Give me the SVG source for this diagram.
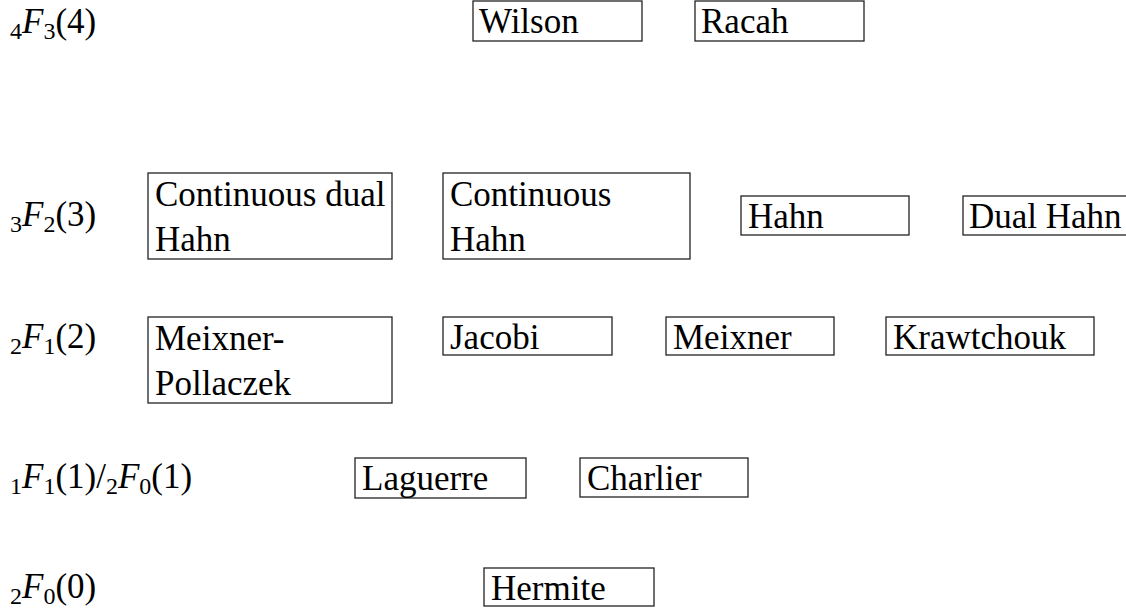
<svg xmlns="http://www.w3.org/2000/svg" width="1126" height="608" viewBox="0 0 1126 608" font-family="'Liberation Serif', 'DejaVu Serif', serif">
<style>
text{font-family:'Liberation Serif','DejaVu Serif',serif;font-size:35px;fill:#000}
.box{fill:#fff;stroke:#222;stroke-width:1.3}
.it{font-style:italic}
.sub{font-size:24px}
</style>
<rect width="1126" height="608" fill="#fff"/>
<g id="levels">
<text x="10" y="33"><tspan class="sub" dy="6">4</tspan><tspan class="it" dy="-6">F</tspan><tspan class="sub" dy="6">3</tspan><tspan dy="-6">(4)</tspan></text>
<text x="10" y="226"><tspan class="sub" dy="6">3</tspan><tspan class="it" dy="-6">F</tspan><tspan class="sub" dy="6">2</tspan><tspan dy="-6">(3)</tspan></text>
<text x="10" y="348"><tspan class="sub" dy="6">2</tspan><tspan class="it" dy="-6">F</tspan><tspan class="sub" dy="6">1</tspan><tspan dy="-6">(2)</tspan></text>
<text x="10" y="488"><tspan class="sub" dy="6">1</tspan><tspan class="it" dy="-6">F</tspan><tspan class="sub" dy="6">1</tspan><tspan dy="-6">(1)/</tspan><tspan class="sub" dy="6">2</tspan><tspan class="it" dy="-6">F</tspan><tspan class="sub" dy="6">0</tspan><tspan dy="-6">(1)</tspan></text>
<text x="10" y="598"><tspan class="sub" dy="6">2</tspan><tspan class="it" dy="-6">F</tspan><tspan class="sub" dy="6">0</tspan><tspan dy="-6">(0)</tspan></text>
</g>
<g id="wilson"><rect class="box" x="473" y="1" width="169" height="40"/><text x="479" y="33">Wilson</text></g>
<g id="racah"><rect class="box" x="695" y="1" width="169" height="40"/><text x="701" y="33">Racah</text></g>
<g id="cont-dual-hahn"><rect class="box" x="148" y="173" width="244" height="86"/><text x="155" y="206">Continuous dual</text><text x="155" y="251">Hahn</text></g>
<g id="cont-hahn"><rect class="box" x="443" y="173" width="247" height="86"/><text x="450" y="206">Continuous</text><text x="450" y="251">Hahn</text></g>
<g id="hahn"><rect class="box" x="741" y="196" width="168" height="39"/><text x="748" y="228">Hahn</text></g>
<g id="dual-hahn"><rect class="box" x="963" y="196" width="180" height="39"/><text x="969" y="228">Dual Hahn</text></g>
<g id="meixner-pollaczek"><rect class="box" x="148" y="317" width="244" height="86"/><text x="155" y="350">Meixner-</text><text x="155" y="395">Pollaczek</text></g>
<g id="jacobi"><rect class="box" x="443" y="317" width="169" height="38"/><text x="450" y="349">Jacobi</text></g>
<g id="meixner"><rect class="box" x="666" y="317" width="168" height="38"/><text x="673" y="349">Meixner</text></g>
<g id="krawtchouk"><rect class="box" x="886" y="317" width="208" height="38"/><text x="893" y="349">Krawtchouk</text></g>
<g id="laguerre"><rect class="box" x="355" y="458" width="171" height="40"/><text x="362" y="490">Laguerre</text></g>
<g id="charlier"><rect class="box" x="580" y="458" width="168" height="39"/><text x="587" y="490">Charlier</text></g>
<g id="hermite"><rect class="box" x="484" y="568" width="170" height="38"/><text x="491" y="600">Hermite</text></g>
<g id="connectors"></g>
</svg>
